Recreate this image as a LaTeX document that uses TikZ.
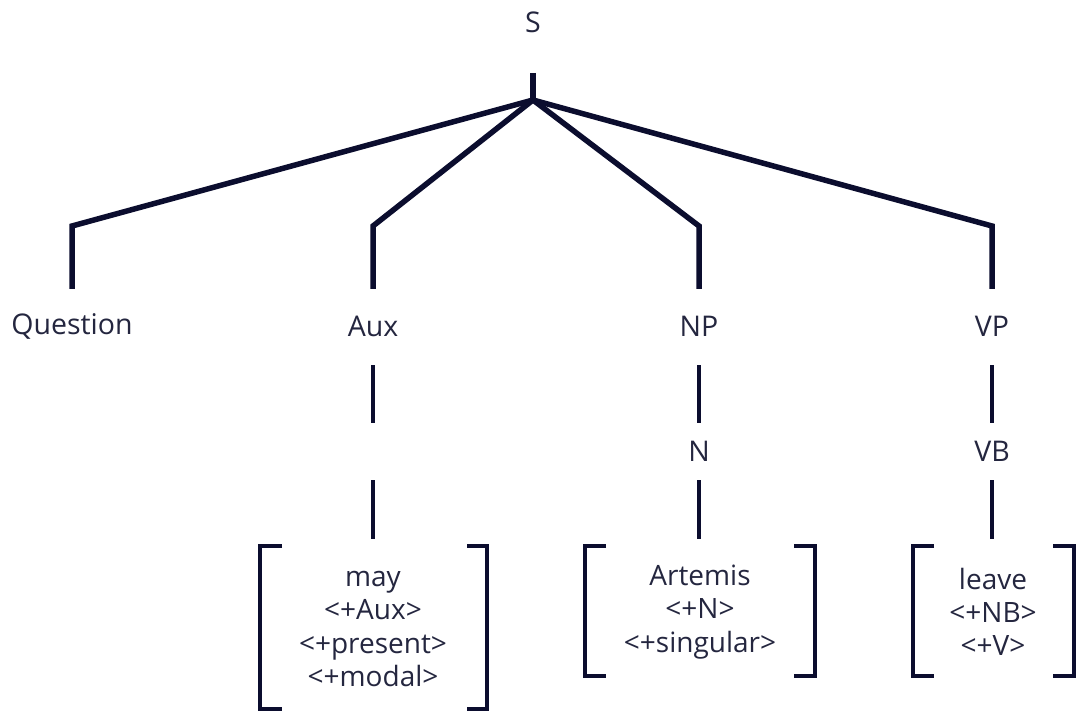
\documentclass[tikz,border=0pt]{standalone}
\usepackage{fontspec}
\setmainfont{Open Sans}
\definecolor{navy}{HTML}{0B0D2E}
\definecolor{txt}{HTML}{24263F}
\tikzset{
  mainline/.style={draw=navy, line width=5.5pt, line join=miter},
  thinline/.style={draw=navy, line width=3.4pt},
  bracketline/.style={draw=navy, line width=4.2pt, line join=miter},
  label/.style={text=txt, font=\fontsize{28.5}{32}\selectfont, inner sep=0pt},
  feat/.style={text=txt, font=\fontsize{28}{33.3}\selectfont, align=center, inner sep=0pt}
}
\begin{document}
\begin{tikzpicture}[x=1pt,y=-1pt]
\useasboundingbox (0,0) rectangle (1084,711);
% labels
\node[label] (S) at (533,22) {S};
\node[label] (Q) at (72,326) {Question};
\node[label] (Aux) at (373,326) {Aux};
\node[label] (NP) at (699,326) {NP};
\node[label] (VP) at (992,326) {VP};
\node[label] (N) at (699,451) {N};
\node[label] (VB) at (992,451) {VB};
% coordinates
\coordinate (rt) at (533,73);
\coordinate (hub) at (533,100);
\coordinate (qc) at (72,226);  \coordinate (qt) at (72,289);
\coordinate (ac) at (373,226); \coordinate (at) at (373,289);
\coordinate (nc) at (699,226); \coordinate (nt) at (699,289);
\coordinate (vc) at (992,226); \coordinate (vt) at (992,289);
% main tree
\draw[mainline] (rt) -- (hub);
\draw[mainline] (hub) -- (qc) -- (qt);
\draw[mainline] (hub) -- (ac) -- (at);
\draw[mainline] (hub) -- (nc) -- (nt);
\draw[mainline] (hub) -- (vc) -- (vt);
% lower connectors
\coordinate (a1) at (373,365); \coordinate (a2) at (373,423);
\coordinate (a3) at (373,480); \coordinate (a4) at (373,539);
\coordinate (n1) at (699,365); \coordinate (n2) at (699,423);
\coordinate (n3) at (699,480); \coordinate (n4) at (699,539);
\coordinate (v1) at (992,365); \coordinate (v2) at (992,423);
\coordinate (v3) at (992,480); \coordinate (v4) at (992,539);
\draw[thinline] (a1) -- (a2);
\draw[thinline] (a3) -- (a4);
\draw[thinline] (n1) -- (n2);
\draw[thinline] (n3) -- (n4);
\draw[thinline] (v1) -- (v2);
\draw[thinline] (v3) -- (v4);
% feature boxes
\node[feat] (fa) at (373,629) {may\\<+Aux>\\<+present>\\<+modal>};
\node[feat] (fn) at (700,612) {Artemis\\<+N>\\<+singular>};
\node[feat] (fv) at (993,612) {leave\\<+NB>\\<+V>};
% brackets
\draw[bracketline] (282,546) -- (260,546) -- (260,709) -- (282,709);
\draw[bracketline] (467,546) -- (487,546) -- (487,709) -- (467,709);
\draw[bracketline] (606,546) -- (585,546) -- (585,676) -- (606,676);
\draw[bracketline] (794,546) -- (815,546) -- (815,676) -- (794,676);
\draw[bracketline] (934,546) -- (913,546) -- (913,676) -- (934,676);
\draw[bracketline] (1053,546) -- (1074,546) -- (1074,676) -- (1053,676);
\end{tikzpicture}
\end{document}
